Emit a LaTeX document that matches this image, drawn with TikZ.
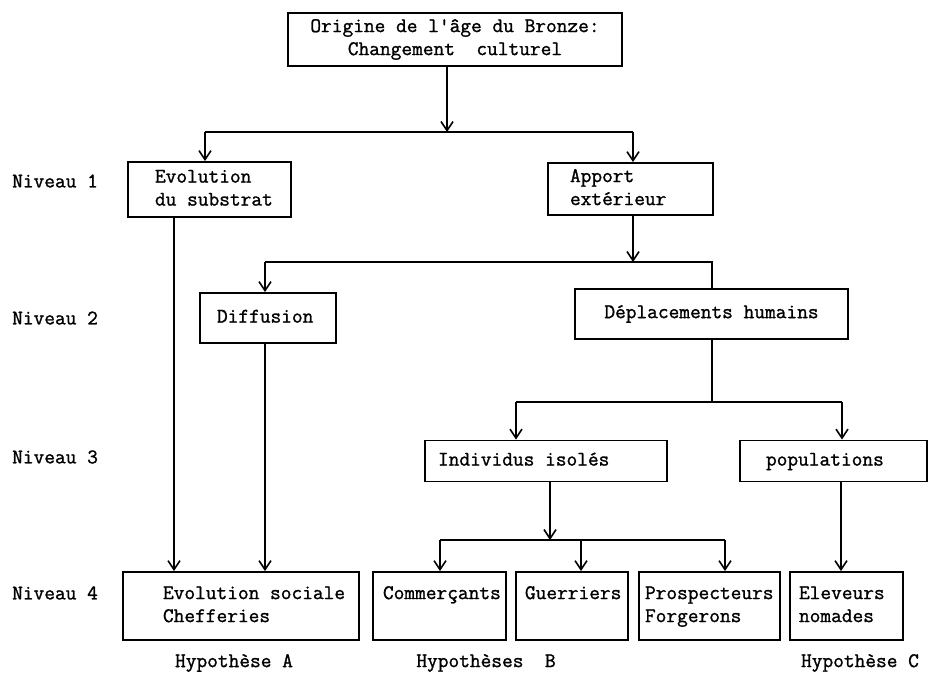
\documentclass[tikz,border=0pt]{standalone}
\usepackage{fontspec}
\setmonofont{Latin Modern Mono}[FakeBold=1.2]
\usetikzlibrary{arrows.meta}
\newcommand\bxt[3]{\makebox[#1pt][l]{\hspace*{#2pt}\begin{tabular}{@{}l@{}}#3\end{tabular}}}
\begin{document}
\begin{tikzpicture}[x=1pt,y=-1pt,
  every node/.style={font=\ttfamily\fontsize{20.8}{23}\selectfont},
  box/.style={draw,line width=1.8pt,inner xsep=0pt,inner ysep=0pt},
  lnk/.style={line width=1.6pt},
  arr/.style={line width=1.6pt,-{Straight Barb[length=9pt,width=12pt,line width=1.6pt]}},
  lbl/.style={anchor=west,inner sep=0pt}]
\useasboundingbox (0,0) rectangle (935,673);
\fill[white] (0,0) rectangle (935,673);
% boxes
\node[box,align=center,minimum width=334pt,minimum height=53pt] (top) at (455,39.5)
  {Origine de l'âge du Bronze:\\Changement\ \ culturel};
\node[box,minimum height=55pt] (subst) at (209.5,189.5)
  {\bxt{163}{27}{Evolution\\du substrat}};
\node[box,minimum height=52pt] (apport) at (630.5,189)
  {\bxt{165}{22}{Apport\\extérieur}};
\node[box,minimum height=50pt] (diff) at (268,318)
  {\bxt{136}{17}{Diffusion}};
\node[box,align=center,minimum width=273pt,minimum height=50pt] (depl) at (711.5,314)
  {Déplacements humains};
\node[box,minimum height=41pt] (indiv) at (546,461)
  {\bxt{242}{13}{Individus isolés}};
\node[box,minimum height=41pt] (pop) at (833.5,461)
  {\bxt{187}{26}{populations}};
\node[box,minimum height=68pt] (evsoc) at (241,606)
  {\bxt{236}{40}{Evolution sociale\\Chefferies}};
\node[box,minimum height=68pt] (comm) at (439.5,606)
  {\bxt{133}{10}{Commerçants\\~}};
\node[box,minimum height=68pt] (guer) at (572,606)
  {\bxt{112}{9}{Guerriers\\~}};
\node[box,minimum height=68pt] (prosp) at (709.5,606)
  {\bxt{141}{6}{Prospecteurs\\Forgerons}};
\node[box,minimum height=68pt] (elev) at (846.5,606)
  {\bxt{113}{9}{Eleveurs\\nomades}};
% level labels
\node[lbl] (n1) at (12,181) {Niveau 1};
\node[lbl] (n2) at (12,318) {Niveau 2};
\node[lbl] (n3) at (12,457) {Niveau 3};
\node[lbl] (n4) at (12,593) {Niveau 4};
% hypotheses
\node (hA) at (234,663) {Hypothèse A};
\node (hB) at (486,663) {Hypothèses\ \ B};
\node (hC) at (860,663) {Hypothèse C};
% junction coordinates
\coordinate (j1) at (447,132);
\coordinate (j1l) at (205,132);
\coordinate (j1r) at (633,132);
\coordinate (j2) at (633,262);
\coordinate (j2l) at (265,262);
\coordinate (j2r) at (712,262);
\coordinate (colA) at (174,0);
\coordinate (j3) at (712,402);
\coordinate (j3l) at (516,402);
\coordinate (j3r) at (842,402);
\coordinate (j4) at (550,540);
\coordinate (j4a) at (440,540);
\coordinate (j4b) at (581,540);
\coordinate (j4c) at (725,540);
\coordinate (colE) at (841,0);
% connectors
\draw[arr] (top.south -| j1) -- (j1);
\draw[lnk] (j1l) -- (j1r);
\draw[arr] (j1l) -- (j1l |- subst.north);
\draw[arr] (j1r) -- (j1r |- apport.north);
\draw[arr] (apport.south -| j2) -- (j2);
\draw[lnk] (j2l) -- (j2r) -- (j2r |- depl.north);
\draw[arr] (j2l) -- (j2l |- diff.north);
\draw[arr] (subst.south -| colA) -- (evsoc.north -| colA);
\draw[arr] (diff.south -| j2l) -- (evsoc.north -| j2l);
\draw[lnk] (depl.south -| j3) -- (j3);
\draw[lnk] (j3l) -- (j3r);
\draw[arr] (j3l) -- (j3l |- indiv.north);
\draw[arr] (j3r) -- (j3r |- pop.north);
\draw[arr] (indiv.south -| j4) -- (j4);
\draw[lnk] (j4a) -- (j4c);
\draw[arr] (j4a) -- (j4a |- comm.north);
\draw[arr] (j4b) -- (j4b |- guer.north);
\draw[arr] (j4c) -- (j4c |- prosp.north);
\draw[arr] (pop.south -| colE) -- (elev.north -| colE);
\end{tikzpicture}
\end{document}
